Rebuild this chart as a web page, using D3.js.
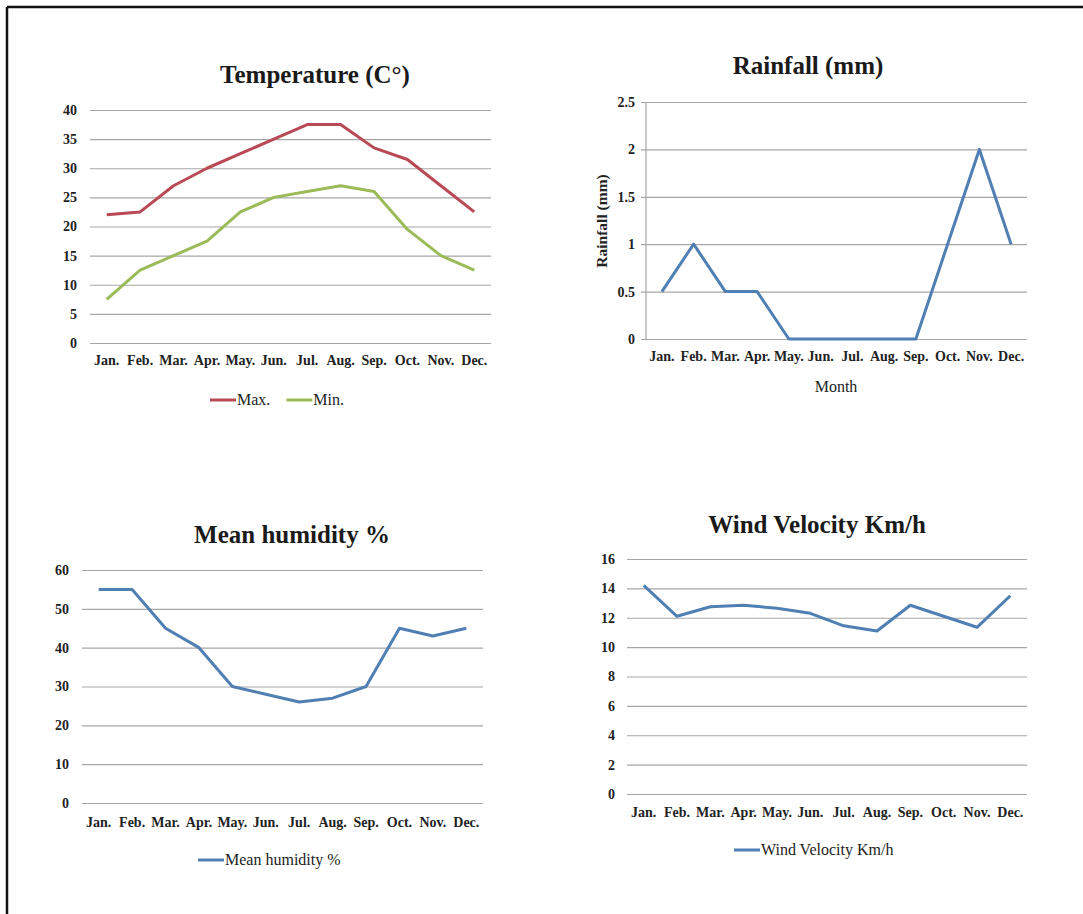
<!DOCTYPE html>
<html>
<head>
<meta charset="utf-8">
<script src="https://cdn.jsdelivr.net/npm/d3@7"></script>
<style>
  body { margin: 0; background: #fff; }
  svg { display: block; font-family: "Liberation Serif", "Times New Roman", serif; }
  .grid line { stroke: #a6a6a6; stroke-width: 1.2; }
  .grid path { display: none; }
  .tick text { fill: #222; font-weight: bold; font-family: "Liberation Serif", "Times New Roman", serif; }
</style>
</head>
<body>
<svg id="svg" width="1083" height="914"></svg>
<script>
/**
 * DATA
 */
var months = ["Jan.", "Feb.", "Mar.", "Apr.", "May.", "Jun.", "Jul.", "Aug.", "Sep.", "Oct.", "Nov.", "Dec."];

var tempMax = [22, 22.5, 27, 30, 32.5, 35, 37.5, 37.5, 33.5, 31.5, 27, 22.5];
var tempMin = [7.5, 12.5, 15, 17.5, 22.5, 25, 26, 27, 26, 19.5, 15, 12.5];
var rainfall = [0.5, 1, 0.5, 0.5, 0, 0, 0, 0, 0, 1, 2, 1];
var humidity = [55, 55, 45, 40, 30, 28, 26, 27, 30, 45, 43, 45];
var wind = [14.2, 12.1, 12.75, 12.85, 12.65, 12.3, 11.45, 11.1, 12.85, 12.1, 11.35, 13.5];

var tempTicks = [0, 5, 10, 15, 20, 25, 30, 35, 40];
var rainTicks = [0, 0.5, 1, 1.5, 2, 2.5];
var humidityTicks = [0, 10, 20, 30, 40, 50, 60];
var windTicks = [0, 2, 4, 6, 8, 10, 12, 14, 16];

var RED = "#b94a55", GREEN = "#9bbb59", BLUE = "#4f7fb3";

var svg = d3.select("#svg");

// frame (top + left only, like the scan)
svg.append("line").attr("x1", 7).attr("x2", 1083).attr("y1", 7).attr("y2", 7)
    .attr("stroke", "#111").attr("stroke-width", 2.5);
svg.append("line").attr("x1", 7).attr("x2", 7).attr("y1", 7).attr("y2", 914)
    .attr("stroke", "#111").attr("stroke-width", 2.5);

/**
 * FUNCTIONS
 */
function drawChart(c) {
    var g = svg.append("g");

    var x = d3.scaleBand().domain(months).range([c.x0, c.x1]).padding(0);
    var y = d3.scaleLinear().domain([0, c.ticks[c.ticks.length - 1]]).range([c.y1, c.y0]);

    // gridlines + y labels
    var ga = g.append("g").attr("class", "grid")
        .attr("transform", "translate(" + c.x0 + ",0)")
        .call(d3.axisLeft(y).tickValues(c.ticks).tickFormat(function(d) { return String(d); })
            .tickSize(-(c.x1 - c.x0)).tickPadding(c.yPad));
    ga.attr("font-family", null).attr("font-size", null);
    ga.selectAll("text").style("font-size", "14px");
    if (c.yAxisLine) {
        ga.selectAll("line").attr("x1", -5);
        g.append("line").attr("x1", c.x0).attr("x2", c.x0).attr("y1", c.y0).attr("y2", c.y1)
            .attr("stroke", "#a6a6a6").attr("stroke-width", 1.2);
    }

    // x labels
    var xa = g.append("g")
        .attr("transform", "translate(0," + c.y1 + ")")
        .call(d3.axisBottom(x).tickSize(0).tickPadding(c.xPad));
    xa.attr("font-family", null).attr("font-size", null);
    xa.select(".domain").remove();
    xa.selectAll("text").style("font-size", "14px");

    // lines
    var line = d3.line()
        .x(function(d, i) { return x(months[i]) + x.bandwidth() / 2; })
        .y(function(d) { return y(d); });

    c.series.forEach(function(s) {
        g.append("path").datum(s.values)
            .attr("d", line)
            .attr("fill", "none")
            .attr("stroke", s.color)
            .attr("stroke-width", 3)
            .attr("stroke-linejoin", "round");
    });

    // title
    g.append("text")
        .attr("x", c.titleX).attr("y", c.titleY)
        .attr("text-anchor", "middle")
        .style("font-size", "25px").style("font-weight", "bold").style("fill", "#1a1a1a")
        .text(c.title);

    // legend
    if (c.legend) {
        var lx = c.legend.x;
        c.series.forEach(function(s) {
            g.append("line").attr("x1", lx).attr("x2", lx + 26)
                .attr("y1", c.legend.y).attr("y2", c.legend.y)
                .attr("stroke", s.color).attr("stroke-width", 3);
            var t = g.append("text").attr("x", lx + 27).attr("y", c.legend.y + 5)
                .style("font-size", "16px").style("fill", "#222").text(s.name);
            lx += 27 + t.node().getComputedTextLength() + 16;
        });
    }
}

drawChart({
    title: "Temperature (C°)", titleX: 315, titleY: 83,
    x0: 90, x1: 491, y0: 110, y1: 343, ticks: tempTicks, yPad: 13, xPad: 12,
    series: [{ name: "Max.", values: tempMax, color: RED }, { name: "Min.", values: tempMin, color: GREEN }],
    legend: { x: 210, y: 400 }
});

drawChart({
    title: "Rainfall (mm)", titleX: 808, titleY: 74,
    x0: 646, x1: 1027, y0: 102, y1: 339, ticks: rainTicks, yPad: 11, xPad: 12,
    yAxisLine: true,
    series: [{ name: "Rainfall", values: rainfall, color: BLUE }]
});
svg.append("text").attr("transform", "translate(607,221) rotate(-90)")
    .attr("text-anchor", "middle")
    .style("font-size", "15.5px").style("font-weight", "bold").style("fill", "#222")
    .text("Rainfall (mm)");
svg.append("text").attr("x", 836).attr("y", 392)
    .attr("text-anchor", "middle")
    .style("font-size", "16px").style("fill", "#222")
    .text("Month");

drawChart({
    title: "Mean humidity %", titleX: 292, titleY: 543,
    x0: 82, x1: 483, y0: 570, y1: 803, ticks: humidityTicks, yPad: 13, xPad: 14,
    series: [{ name: "Mean humidity %", values: humidity, color: BLUE }],
    legend: { x: 198, y: 860 }
});

drawChart({
    title: "Wind Velocity Km/h", titleX: 817, titleY: 533,
    x0: 627, x1: 1027, y0: 559, y1: 794, ticks: windTicks, yPad: 12, xPad: 13,
    series: [{ name: "Wind Velocity Km/h", values: wind, color: BLUE }],
    legend: { x: 734, y: 850 }
});
</script>
</body>
</html>
